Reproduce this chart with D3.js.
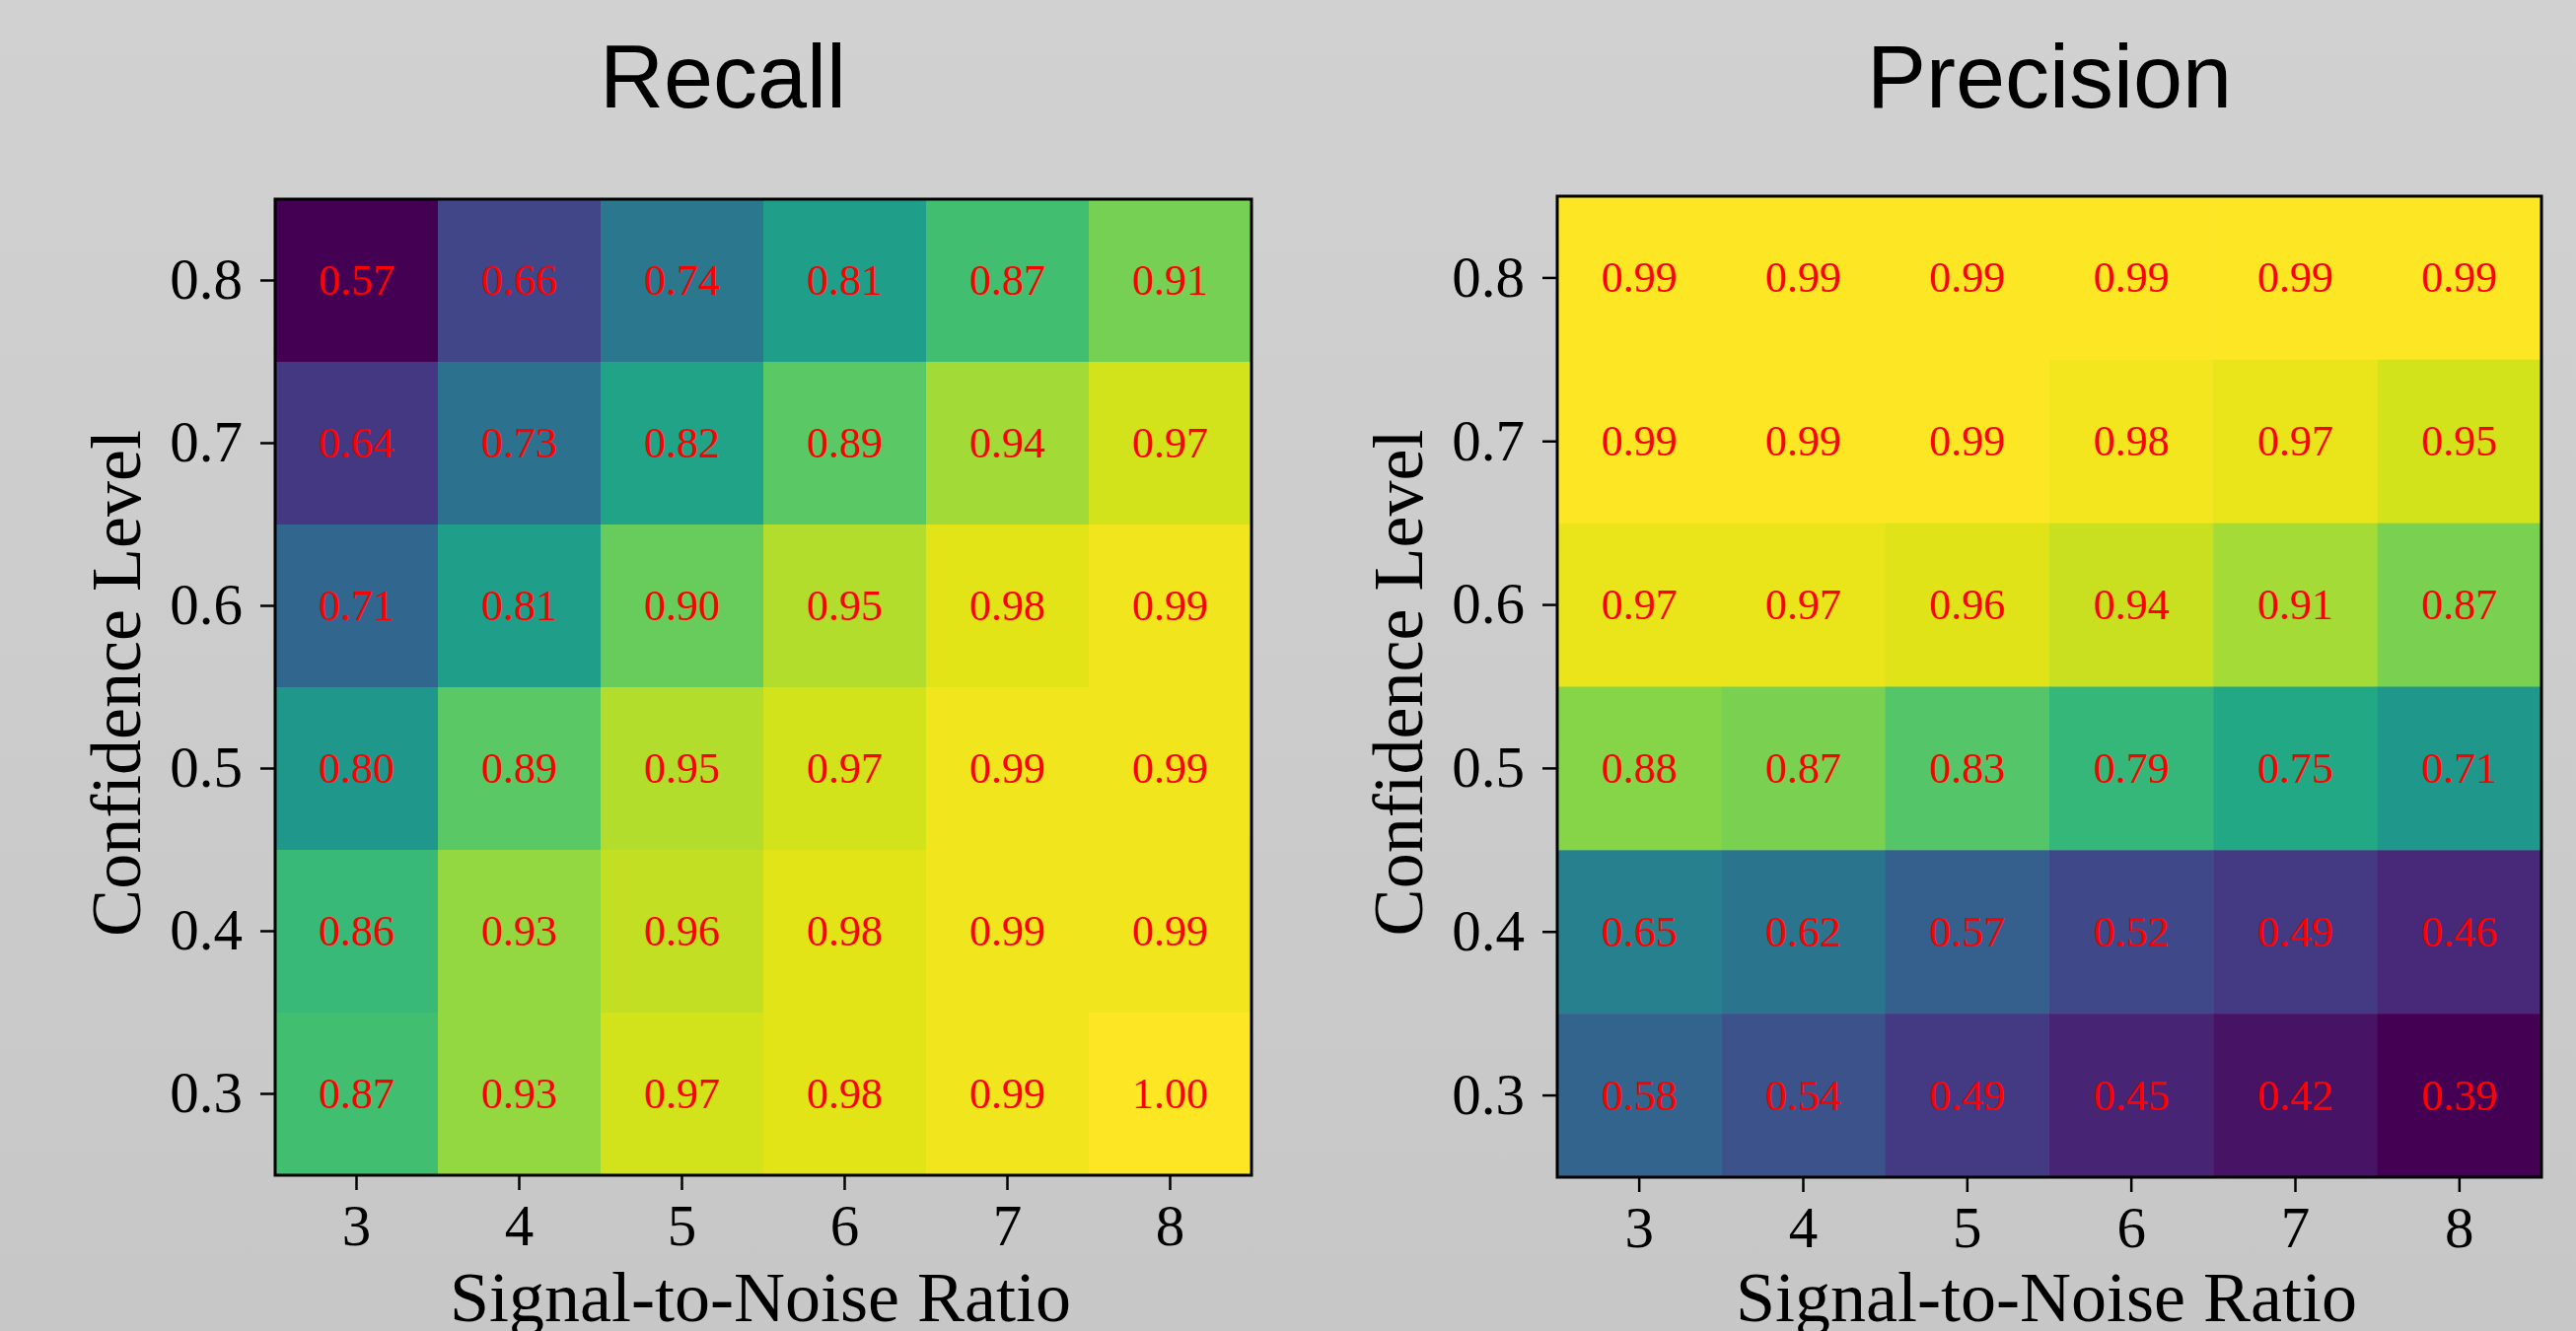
<!DOCTYPE html>
<html><head><meta charset="utf-8">
<script src="https://cdn.jsdelivr.net/npm/d3@7"></script>
<style>html,body{margin:0;padding:0;background:#cccccc;}svg{display:block;}</style>
</head><body>
<svg id="chart" width="2612" height="1350"></svg>
<script>
const snr = [3, 4, 5, 6, 7, 8];
const confidence = [0.8, 0.7, 0.6, 0.5, 0.4, 0.3];
const recall = [
  [0.57, 0.66, 0.74, 0.81, 0.87, 0.91],
  [0.64, 0.73, 0.82, 0.89, 0.94, 0.97],
  [0.71, 0.81, 0.90, 0.95, 0.98, 0.99],
  [0.80, 0.89, 0.95, 0.97, 0.99, 0.99],
  [0.86, 0.93, 0.96, 0.98, 0.99, 0.99],
  [0.87, 0.93, 0.97, 0.98, 0.99, 1.00]
];
const precision = [
  [0.99, 0.99, 0.99, 0.99, 0.99, 0.99],
  [0.99, 0.99, 0.99, 0.98, 0.97, 0.95],
  [0.97, 0.97, 0.96, 0.94, 0.91, 0.87],
  [0.88, 0.87, 0.83, 0.79, 0.75, 0.71],
  [0.65, 0.62, 0.57, 0.52, 0.49, 0.46],
  [0.58, 0.54, 0.49, 0.45, 0.42, 0.39]
];
const titles = ["Recall", "Precision"];
const xLabel = "Signal-to-Noise Ratio";
const yLabel = "Confidence Level";

const svg = d3.select("#chart");
const defs = svg.append("defs");
const grad = defs.append("linearGradient").attr("id","bg").attr("x1",0).attr("y1",0).attr("x2",0).attr("y2",1);
grad.append("stop").attr("offset","0%").attr("stop-color","#d1d1d1");
grad.append("stop").attr("offset","100%").attr("stop-color","#c7c7c7");
svg.append("rect").attr("width",2612).attr("height",1350).attr("fill","url(#bg)");

const serif = "'Liberation Serif','DejaVu Serif',serif";
const sans = "'Liberation Sans',Arial,sans-serif";

const panels = [
  {data: recall, title: titles[0], x0: 279, x1: 1269, y0: 202, y1: 1192, titleX: 733, ylabX: 142},
  {data: precision, title: titles[1], x0: 1579, x1: 2577, y0: 199, y1: 1194, titleX: 2078, ylabX: 1442}
];

panels.forEach(p => {
  const g = svg.append("g");
  const x = d3.scaleBand().domain(snr).range([p.x0, p.x1]).padding(0);
  const y = d3.scaleBand().domain(confidence).range([p.y0, p.y1]).padding(0);
  const flat = p.data.flat();
  const color = d3.scaleSequential(d3.interpolateViridis).domain([d3.min(flat), d3.max(flat)]);
  const cells = [];
  confidence.forEach((c, i) => snr.forEach((s, j) => cells.push({c, s, v: p.data[i][j]})));
  g.selectAll("rect.cell").data(cells).join("rect")
    .attr("x", d => x(d.s)).attr("y", d => y(d.c))
    .attr("width", x.bandwidth() + 0.5).attr("height", y.bandwidth() + 0.5)
    .attr("fill", d => color(d.v));
  g.selectAll("text.val").data(cells).join("text")
    .attr("x", d => x(d.s) + x.bandwidth()/2)
    .attr("y", d => y(d.c) + y.bandwidth()/2)
    .attr("dy", "0.33em")
    .attr("text-anchor", "middle")
    .attr("font-family", serif).attr("font-size", 44)
    .attr("fill", "#ff0000")
    .text(d => d.v.toFixed(2));
  // frame
  g.append("rect").attr("x", p.x0).attr("y", p.y0).attr("width", p.x1 - p.x0).attr("height", p.y1 - p.y0)
    .attr("fill", "none").attr("stroke", "#000").attr("stroke-width", 3);
  // axes
  const xa = g.append("g").attr("transform", `translate(0,${p.y1})`)
    .call(d3.axisBottom(x).tickSize(15).tickPadding(14).tickFormat(d => d));
  const ya = g.append("g").attr("transform", `translate(${p.x0},0)`)
    .call(d3.axisLeft(y).tickSize(15).tickPadding(18).tickFormat(d => d.toFixed(1)));
  [xa, ya].forEach(a => {
    a.select(".domain").remove();
    a.selectAll(".tick line").attr("stroke", "#000").attr("stroke-width", 2.5);
    a.selectAll(".tick text").attr("font-family", serif).attr("font-size", 59).attr("fill", "#000");
  });
  xa.selectAll(".tick text").attr("dy", "0.71em");
  // title
  g.append("text").attr("x", p.titleX).attr("y", 109).attr("text-anchor", "middle")
    .attr("font-family", sans).attr("font-size", 90).attr("fill", "#000").text(p.title);
  // x label
  g.append("text").attr("x", (p.x0 + p.x1)/2 - 3).attr("y", 1340).attr("text-anchor", "middle")
    .attr("font-family", serif).attr("font-size", 72).attr("fill", "#000").text(xLabel);
  // y label
  g.append("text").attr("transform", `translate(${p.ylabX},${(p.y0 + p.y1)/2 - 4}) rotate(-90)`)
    .attr("text-anchor", "middle")
    .attr("font-family", serif).attr("font-size", 72).attr("fill", "#000").text(yLabel);
});
</script>
</body></html>
